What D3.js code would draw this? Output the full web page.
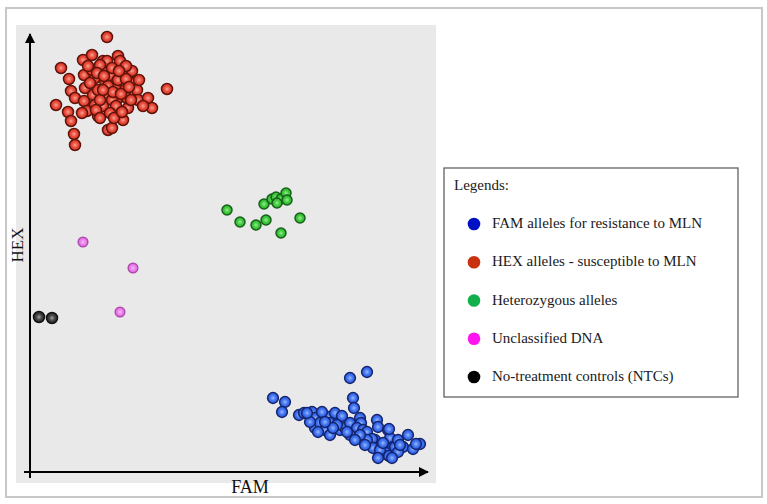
<!DOCTYPE html>
<html><head><meta charset="utf-8">
<script src="https://cdn.jsdelivr.net/npm/d3@7"></script>
<style>html,body{margin:0;padding:0;background:#fff;}svg{display:block;}</style>
</head><body>
<svg id="chart" width="767" height="504"></svg>
<script>
// FAM / HEX fluorescence values (arbitrary RFU units)
const hexFAM = [0.77,0.53,0.62,0.31,0.39,0.41,0.45,0.26,0.38,0.41,0.44,0.45,0.54,0.55,0.54,0.57,0.52,0.68,0.63,0.65,0.62,0.73,0.72,0.75,0.68,0.77,0.73,0.65,0.78,0.88,0.90,1.02,1.03,1.07,1.08,1.18,1.22,1.13,0.98,0.93,0.82,1.37,0.95,0.88,0.85,0.80,0.77,0.92,0.82,0.97,0.70,0.82,0.67,0.88,0.96,0.78,0.83,0.91,0.70,0.60,0.99,0.86,0.73,0.66,0.80,0.96,1.09,0.84,0.58,0.74,1.01,0.89,0.92,0.70];
const hexHEX = [4.35,4.12,4.17,4.04,3.93,3.81,3.74,3.67,3.60,3.51,3.38,3.27,3.97,3.84,3.71,3.61,3.59,3.56,3.77,3.94,4.02,4.11,4.01,3.91,3.82,3.74,3.66,3.67,3.42,4.16,4.11,4.01,3.89,3.82,3.72,3.74,3.64,3.66,3.64,3.52,3.44,3.83,3.82,3.74,3.84,3.97,4.11,3.97,3.72,3.74,4.07,4.04,3.99,3.92,3.93,3.86,3.80,3.78,3.72,3.89,3.85,3.66,3.82,3.62,3.59,4.06,3.92,3.54,4.06,3.96,3.72,4.01,3.60,3.54];

const hetFAM = [1.97,2.10,2.26,2.36,2.34,2.42,2.46,2.51,2.56,2.57,2.70,2.51,2.47];
const hetHEX = [2.62,2.50,2.47,2.52,2.68,2.73,2.75,2.73,2.79,2.72,2.54,2.39,2.69];

const famFAM = [2.43,2.55,2.52,3.20,3.37,3.23,3.24,2.69,2.74,2.82,2.85,2.85,2.90,2.95,2.98,3.05,3.12,3.00,3.00,3.10,3.15,3.20,3.30,3.31,3.27,3.33,3.20,3.37,3.47,3.48,3.45,3.42,3.58,3.60,3.55,3.78,3.73,3.83,3.90,3.58,3.45,3.37,3.30,3.63,3.12,3.59,3.65,3.56,3.43,3.59,3.50,3.68,2.80,2.92,3.07,3.25,3.68,3.86,3.53,3.17,2.88,3.03,3.35,3.70,3.48,3.62,2.95,2.77];
const famHEX = [0.74,0.70,0.60,0.94,1.00,0.74,0.64,0.57,0.59,0.60,0.54,0.44,0.49,0.42,0.55,0.59,0.52,0.49,0.37,0.42,0.44,0.49,0.54,0.49,0.44,0.42,0.37,0.40,0.52,0.45,0.32,0.33,0.42,0.34,0.25,0.37,0.25,0.23,0.28,0.17,0.24,0.32,0.37,0.25,0.56,0.43,0.25,0.19,0.24,0.16,0.22,0.32,0.50,0.60,0.47,0.32,0.20,0.28,0.29,0.40,0.40,0.44,0.27,0.27,0.14,0.14,0.50,0.59];

const uncFAM = [0.53,1.03,0.90];
const uncHEX = [2.30,2.04,1.60];

const ntcFAM = [0.09,0.22];
const ntcHEX = [1.55,1.54];

const legendLabels = ["FAM alleles for resistance to MLN","HEX alleles - susceptible to MLN","Heterozygous alleles","Unclassified DNA","No-treatment controls (NTCs)"];
const legendColors = ["#0010c4","#c8320e","#12b04a","#ff14f0","#000000"];

const svg = d3.select("#chart");
const serif = "Liberation Serif, Times New Roman, serif";

// outer frame
svg.append("rect").attr("x",6).attr("y",8).attr("width",756).attr("height",489)
  .attr("fill","#fff").attr("stroke","#c8c8c8").attr("stroke-width",2);

// plot background
svg.append("rect").attr("x",16).attr("y",25).attr("width",420).attr("height",458).attr("fill","#e9e9e9");

const x = d3.scaleLinear().domain([0,4.0]).range([30,430]);
const y = d3.scaleLinear().domain([0,4.4]).range([472,32]);

const defs = svg.append("defs");
defs.append("marker").attr("id","arrow").attr("viewBox","0 0 10 10").attr("refX",9).attr("refY",5)
  .attr("markerWidth",5).attr("markerHeight",5).attr("orient","auto")
  .append("path").attr("d","M0,0 L10,5 L0,10 Z").attr("fill","#000");

function grad(id, c0, c1, c2){
  const g = defs.append("radialGradient").attr("id",id).attr("cx","50%").attr("cy","50%").attr("r","55%");
  g.append("stop").attr("offset","0%").attr("stop-color",c0);
  g.append("stop").attr("offset","50%").attr("stop-color",c1);
  g.append("stop").attr("offset","100%").attr("stop-color",c2);
}
grad("gRed","#f4a394","#e8493a","#d8301e");
grad("gBlue","#9ab8f8","#3f72f0","#2c5ce2");
grad("gGreen","#9aec95","#3ec83c","#2aac2a");
grad("gPink","#f6b8f6","#ea82ec","#dc6cdc");
grad("gBlack","#a0a0a0","#404040","#2a2a2a");

// axes
const [x0, x1] = x.range();
const [y0, y1] = y.range();
svg.append("line").attr("x1",x0).attr("y1",y0+6).attr("x2",x0).attr("y2",y1+2)
  .attr("stroke","#000").attr("stroke-width",2).attr("marker-end","url(#arrow)");
svg.append("line").attr("x1",x0-6).attr("y1",y0).attr("x2",x1-2).attr("y2",y0)
  .attr("stroke","#000").attr("stroke-width",2).attr("marker-end","url(#arrow)");

svg.append("text").attr("x",250).attr("y",493).attr("text-anchor","middle")
  .attr("font-family",serif).attr("font-size",18).attr("fill","#111").text("FAM");
svg.append("text").attr("transform","translate(23,245) rotate(-90)").attr("text-anchor","middle")
  .attr("font-family",serif).attr("font-size",17).attr("fill","#111").text("HEX");

function drawSeries(xs, ys, fill, stroke, r){
  svg.append("g").selectAll("circle").data(xs.map((v,i)=>[v,ys[i]])).join("circle")
    .attr("cx",d=>x(d[0])).attr("cy",d=>y(d[1])).attr("r",r)
    .attr("fill",fill).attr("stroke",stroke).attr("stroke-width",1.5);
}
drawSeries(hexFAM, hexHEX, "url(#gRed)", "#5e140a", 5.5);
drawSeries(hetFAM, hetHEX, "url(#gGreen)", "#17601a", 5);
drawSeries(famFAM, famHEX, "url(#gBlue)", "#15246e", 5.4);
drawSeries(uncFAM, uncHEX, "url(#gPink)", "#b04ab0", 4.8);
drawSeries(ntcFAM, ntcHEX, "url(#gBlack)", "#111", 5.5);

// legend
const lg = svg.append("g");
lg.append("rect").attr("x",444).attr("y",168).attr("width",294).attr("height",229)
  .attr("fill","#fff").attr("stroke","#555").attr("stroke-width",1.2);
lg.append("text").attr("x",454).attr("y",190).attr("font-family",serif)
  .attr("font-size",15).attr("fill","#1a1a1a").text("Legends:");
const ly = d3.scalePoint().domain(legendLabels).range([224,377]);
const items = lg.selectAll("g.item").data(legendLabels).join("g").attr("class","item");
items.append("circle").attr("cx",474).attr("cy",d=>ly(d)).attr("r",6.3).attr("fill",(d,i)=>legendColors[i]);
items.append("text").attr("x",492).attr("y",d=>ly(d)+4).attr("font-family",serif)
  .attr("font-size",15).attr("fill","#1a1a1a").text(d=>d);
</script>
</body></html>
